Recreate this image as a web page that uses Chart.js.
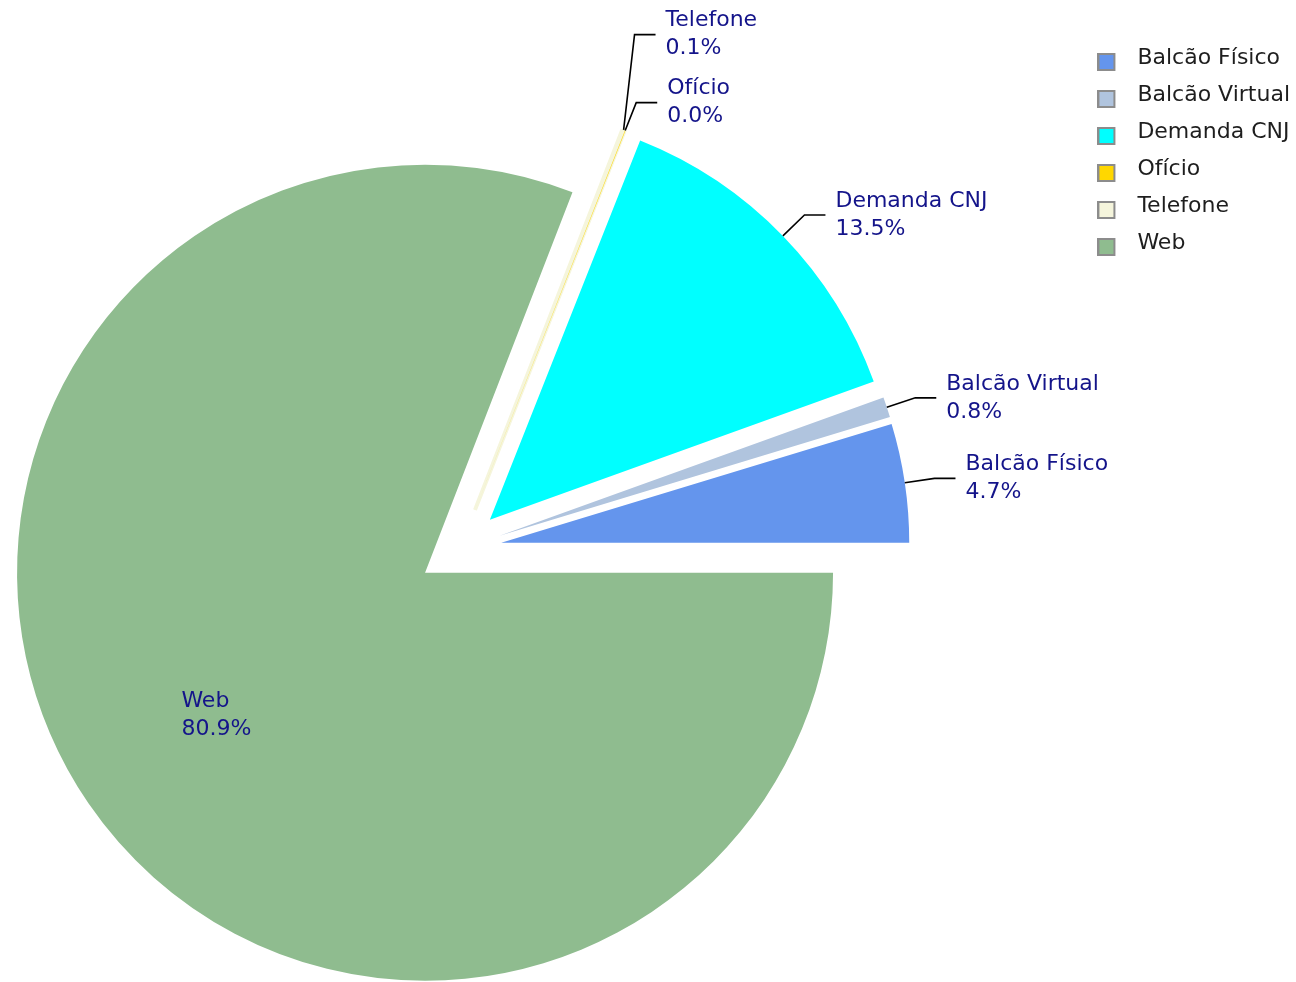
<!DOCTYPE html>
<html>
<head>
<meta charset="utf-8">
<script src="https://cdn.jsdelivr.net/npm/chart.js@4.4.0/dist/chart.umd.min.js"></script>
<style>
  html, body { margin: 0; padding: 0; background: #fff; overflow: hidden; }
  /* canvas is a bit bigger than the window so the pie sits where it does in the original */
  #wrap { width: 1459px; height: 1066px; margin-left: -163px; }
</style>
</head>
<body>
<div id="wrap"><canvas id="myChart"></canvas></div>
<script>
// data, in legend order
const categories = ["Balcão Físico", "Balcão Virtual", "Demanda CNJ", "Ofício", "Telefone", "Web"];
const shares = [4.7, 0.8, 13.5, 0.02, 0.1, 80.9];
const colors = ["#6495ED", "#B0C4DE", "#00FFFF", "#FFD700", "#F5F5DC", "#8FBC8F"];
const borders = [0, 0, 0, 0, 4, 0];

const FONT = "DejaVu Sans";
const LABEL_COLOR = "#14148a";
const EXPLODE = 42;

// pie is drawn clockwise from 3 o'clock, so feed it reversed
const pieLabels = categories.slice().reverse();
const pieValues = shares.slice().reverse();
const pieColors = colors.slice().reverse();
const pieBorders = borders.slice().reverse();

function legendBox(color) {
  const c = document.createElement("canvas");
  c.width = 29; c.height = 26;
  const g = c.getContext("2d");
  g.fillStyle = color;
  g.fillRect(1, 9, 16, 16);
  g.strokeStyle = "#8c8c8c";
  g.lineWidth = 2;
  g.strokeRect(1, 9, 16, 16);
  return c;
}

// every slice pulled out from the centre
const explodePlugin = {
  id: "explode",
  beforeDatasetDraw(chart, args) {
    const ctx = chart.ctx;
    args.meta.data.forEach(arc => {
      const mid = (arc.startAngle + arc.endAngle) / 2;
      ctx.save();
      ctx.translate(Math.cos(mid) * EXPLODE, Math.sin(mid) * EXPLODE);
      arc.draw(ctx);
      ctx.restore();
    });
    return false;
  }
};

// name + percent labels, outside ones with leader lines
const sliceLabels = {
  id: "sliceLabels",
  afterDatasetsDraw(chart) {
    const ctx = chart.ctx;
    const meta = chart.getDatasetMeta(0);
    const values = chart.data.datasets[0].data;
    const total = values.reduce((a, b) => a + b, 0);
    const outside = [];
    ctx.save();
    ctx.font = "22px '" + FONT + "'";
    ctx.fillStyle = LABEL_COLOR;
    ctx.textBaseline = "middle";
    ctx.textAlign = "left";
    meta.data.forEach((arc, i) => {
      const mid = (arc.startAngle + arc.endAngle) / 2;
      const dx = Math.cos(mid), dy = Math.sin(mid);
      const lines = [chart.data.labels[i], (values[i] / total * 100).toFixed(1) + "%"];
      if (values[i] / total > 0.3) {
        const r = arc.outerRadius * 0.62 + EXPLODE;
        const cx = arc.x + dx * r, cy = arc.y + dy * r;
        const w = Math.max(...lines.map(t => ctx.measureText(t).width));
        ctx.fillText(lines[0], cx - w / 2, cy - 14);
        ctx.fillText(lines[1], cx - w / 2, cy + 14);
      } else {
        const ex = arc.x + dx * (arc.outerRadius + EXPLODE);
        const ey = arc.y + dy * (arc.outerRadius + EXPLODE);
        outside.push({ lines, ex, ey, kx: ex + dx * 30, ky: ey + dy * 30 });
      }
    });
    outside.sort((a, b) => b.ky - a.ky);
    for (let k = 1; k < outside.length; k++) {
      if (outside[k].ky > outside[k - 1].ky - 68) outside[k].ky = outside[k - 1].ky - 68;
    }
    ctx.strokeStyle = "#000";
    ctx.lineWidth = 1.6;
    outside.forEach(l => {
      ctx.beginPath();
      ctx.moveTo(l.ex, l.ey);
      ctx.lineTo(l.kx, l.ky);
      ctx.lineTo(l.kx + 21, l.ky);
      ctx.stroke();
      ctx.fillText(l.lines[0], l.kx + 31, l.ky - 14);
      ctx.fillText(l.lines[1], l.kx + 31, l.ky + 14);
    });
    ctx.restore();
  }
};

const config = {
  type: "pie",
  data: {
    labels: pieLabels,
    datasets: [
      {
        data: pieValues,
        backgroundColor: pieColors,
        borderColor: pieColors,
        borderWidth: pieBorders
      }
    ]
  },
  options: {
    responsive: true,
    maintainAspectRatio: false,
    animation: false,
    rotation: 90,
    radius: 408,
    layout: { padding: { left: 0, right: -4, top: 32, bottom: 0 } },
    plugins: {
      tooltip: { enabled: false },
      legend: {
        position: "right",
        align: "start",
        reverse: true,
        labels: {
          usePointStyle: true,
          pointStyleWidth: 29,
          padding: 15,
          color: "#1e1e1e",
          font: { family: FONT, size: 22 },
          generateLabels(chart) {
            const ds = chart.data.datasets[0];
            return chart.data.labels.map((text, i) => ({
              text: text,
              pointStyle: legendBox(ds.backgroundColor[i]),
              fillStyle: ds.backgroundColor[i],
              strokeStyle: "#8c8c8c",
              lineWidth: 0,
              fontColor: "#1e1e1e",
              hidden: false,
              index: i
            }));
          }
        }
      }
    }
  },
  plugins: [explodePlugin, sliceLabels]
};

var myChart = new Chart(document.getElementById("myChart"), config);
</script>
</body>
</html>
